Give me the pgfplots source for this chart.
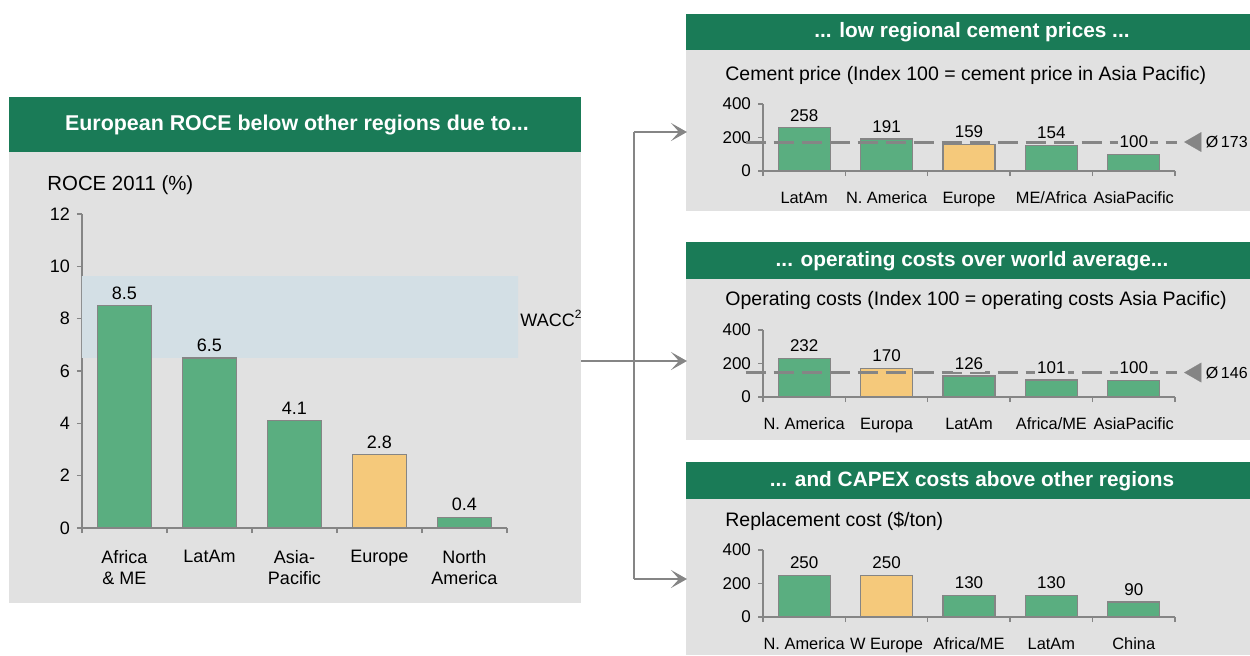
\documentclass[border=0pt]{standalone}
\usepackage{fontspec}
\setmainfont{Liberation Sans}
\usepackage{pgfplots}
\usepackage{pgfplotstable}
\pgfplotsset{compat=1.18}
\usetikzlibrary{arrows.meta}

\definecolor{hdrgreen}{HTML}{1A7B57}
\definecolor{bargreen}{HTML}{5AAE80}
\definecolor{baryellow}{HTML}{F5C97B}
\definecolor{panelgrey}{HTML}{E1E1E1}
\definecolor{bandblue}{HTML}{D3DFE5}
\definecolor{linegrey}{HTML}{858585}

\newcommand\fs[1]{\fontsize{#1}{1.2\dimexpr#1pt\relax}\selectfont}

% eu = 1 marks the European bar (yellow)
\pgfplotstableread{
x y eu
0 8.5 0
1 6.5 0
2 4.1 0
3 2.8 1
4 0.4 0
}\roce
\pgfplotstableread{
x y eu
0 258 0
1 191 0
2 159 1
3 154 0
4 100 0
}\price
\pgfplotstableread{
x y eu
0 232 0
1 170 1
2 126 0
3 101 0
4 100 0
}\opcost
\pgfplotstableread{
x y eu
0 250 0
1 250 1
2 130 0
3 130 0
4 90 0
}\capex

\pgfplotsset{
  panel/.style={
    scale only axis, anchor=south west, clip=false,
    xmin=-0.5, xmax=4.5, ymin=0,
    axis x line*=bottom, axis y line*=left,
    axis line style={draw=linegrey, line width=0.7pt},
    tick style={draw=linegrey, line width=0.7pt},
    tick align=outside, major tick length=2.5pt,
    xtick={-0.5,0.5,1.5,2.5,3.5,4.5},
    x tick label as interval,
    /pgf/number format/assume math mode=true,
    xticklabel style={align=center},
  },
  small/.style={
    ymax=400, ytick={0,200,400},
    tick label style={font=\fs{8.5}},
    xticklabel style={yshift=-4.5pt, font=\fs{8.2}},
  },
  bars/.style={ybar, bar width=#1, bar shift=0pt, draw=linegrey, line width=0.6pt},
  green/.style={fill=bargreen, restrict expr to domain={\thisrow{eu}}{0:0}},
  yellow/.style={fill=baryellow, restrict expr to domain={\thisrow{eu}}{1:1}},
  labels/.style={draw=none, mark=none, nodes near coords,
    nodes near coords style={anchor=south, inner sep=1pt, yshift=2pt, text=black, #1}},
  avgline/.style={sharp plot, draw=linegrey, line width=1.5pt, dash pattern=on 10pt off 4pt},
  avgmark/.style={only marks, color=linegrey, mark=triangle*, mark size=5.6pt,
    mark options={rotate=90, fill=linegrey, draw=linegrey, line width=0.1pt}},
}

\begin{document}
\begin{tikzpicture}
\begin{scope}[x=0.5pt, y=-0.5pt]
  \path[use as bounding box] (0,0) rectangle (1250,655);
  \clip (0,0) rectangle (1250,655);
  % panels
  \fill[panelgrey] (9,152) rectangle (581,603);
  \fill[hdrgreen] (9,97) rectangle (581,152);
  \fill[panelgrey] (686,50) rectangle (1250,211);
  \fill[hdrgreen] (686,14) rectangle (1250,50);
  \fill[panelgrey] (686,279) rectangle (1250,440);
  \fill[hdrgreen] (686,242) rectangle (1250,279);
  \fill[panelgrey] (686,499) rectangle (1250,655);
  \fill[hdrgreen] (686,462) rectangle (1250,499);
  % headers
  \node[text=white, font=\bfseries\fs{10.7}] at (297,125) {European ROCE below other regions due to...};
  \node[text=white, font=\bfseries\fs{10.4}] at (972,32) {... low regional cement prices ...};
  \node[text=white, font=\bfseries\fs{10.4}] at (972,261) {... operating costs over world average...};
  \node[text=white, font=\bfseries\fs{10.4}] at (972,481) {... and CAPEX costs above other regions};
  % subtitles
  \node[anchor=west, inner sep=0, font=\fs{10.2}] at (47,185) {ROCE 2011 (\%)};
  \node[anchor=west, inner sep=0, font=\fs{9.75}] at (725,75) {Cement price (Index 100 = cement price in Asia Pacific)};
  \node[anchor=west, inner sep=0, font=\fs{9.75}] at (725,300) {Operating costs (Index 100 = operating costs Asia Pacific)};
  \node[anchor=west, inner sep=0, font=\fs{9.75}] at (725,521) {Replacement cost (\$/ton)};
  % connectors
  \draw[linegrey, line width=1pt] (581,361) -- (634,361);
  \draw[linegrey, line width=1pt] (634,132) -- (634,579);
  \foreach \yy in {132,361,579}
    \draw[linegrey, line width=1pt, -{Stealth[length=8pt, width=9pt, inset=4pt]}] (634,\yy) -- (687,\yy);
  % axis origins
  \coordinate (oL) at (82,528);
  \coordinate (o1) at (763,171);
  \coordinate (o2) at (763,397);
  \coordinate (o3) at (763,617);

% ---- left: ROCE ----
\begin{axis}[panel, at={(oL)}, width=212.5pt, height=157pt,
  ymax=12, ytick={0,2,...,12},
  tick label style={font=\fs{9}},
  xticklabels={Africa\\\& ME, LatAm, Asia-\\Pacific, Europe, North\\America},
  xticklabel style={yshift=-5pt},
]
\addplot[fill=bandblue, draw=none, sharp plot] coordinates {(-0.5,6.5) (4.63,6.5) (4.63,9.63) (-0.5,9.63) (-0.5,6.5)};
\addplot[bars=27pt, green] table[x=x, y=y] {\roce};
\addplot[bars=27pt, yellow] table[x=x, y=y] {\roce};
\addplot[labels={font=\fs{9}}] table[x=x, y=y] {\roce};
\node[anchor=west, inner sep=1pt, font=\fs{9}] at (axis cs:4.63,8) {WACC\textsuperscript{2}};
\end{axis}

% ---- top right: cement price ----
\begin{axis}[panel, small, at={(o1)}, width=206pt, height=33.5pt,
  xticklabels={LatAm, N. America, Europe, ME/Africa, AsiaPacific},
]
\addplot[bars=26pt, green] table[x=x, y=y] {\price};
\addplot[bars=26pt, yellow] table[x=x, y=y] {\price};
\addplot[avgline] coordinates {(-0.71,173) (4.53,173)};
\addplot[avgmark] coordinates {(4.75,173)};
\addplot[labels={fill=panelgrey, font=\fs{8.5}}] table[x=x, y=y] {\price};
\node[anchor=west, inner sep=0, font=\fs{8}] at (axis cs:4.87,173) {Ø\,173};
\end{axis}

% ---- middle right: operating costs ----
\begin{axis}[panel, small, at={(o2)}, width=206pt, height=33.5pt,
  xticklabels={N. America, Europa, LatAm, Africa/ME, AsiaPacific},
]
\addplot[bars=26pt, green] table[x=x, y=y] {\opcost};
\addplot[bars=26pt, yellow] table[x=x, y=y] {\opcost};
\addplot[avgline] coordinates {(-0.71,146) (4.53,146)};
\addplot[avgmark] coordinates {(4.75,146)};
\addplot[labels={fill=panelgrey, font=\fs{8.5}}] table[x=x, y=y] {\opcost};
\node[anchor=west, inner sep=0, font=\fs{8}] at (axis cs:4.87,146) {Ø\,146};
\end{axis}

% ---- bottom right: replacement cost ----
\begin{axis}[panel, small, at={(o3)}, width=206pt, height=33.5pt,
  xticklabels={N. America, W Europe, Africa/ME, LatAm, China},
]
\addplot[bars=26pt, green] table[x=x, y=y] {\capex};
\addplot[bars=26pt, yellow] table[x=x, y=y] {\capex};
\addplot[labels={fill=panelgrey, font=\fs{8.5}}] table[x=x, y=y] {\capex};
\end{axis}
\end{scope}
\end{tikzpicture}
\end{document}
